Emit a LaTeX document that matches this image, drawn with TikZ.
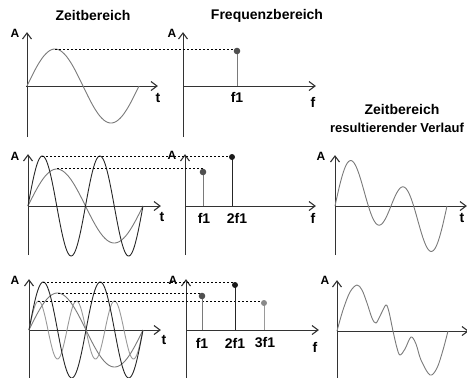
\documentclass[tikz,border=0pt]{standalone}
\usepackage{fontspec}
\setmainfont{Liberation Sans}
\definecolor{axiscol}{HTML}{333333}
\definecolor{wave1}{HTML}{7A7A7A}
\definecolor{wave2}{HTML}{262626}
\definecolor{wave3}{HTML}{9A9A9A}
\definecolor{dot1}{HTML}{505050}
\definecolor{dot2}{HTML}{1A1A1A}
\definecolor{dot3}{HTML}{8A8A8A}
\begin{document}
\begin{tikzpicture}[x=1pt,y=-1pt,
  axis/.style={draw=axiscol, line width=1pt},
  tip/.style={draw=axiscol, line width=1.1pt},
  wavea/.style={draw=wave1, line width=0.9pt},
  waveb/.style={draw=wave2, line width=0.9pt},
  wavec/.style={draw=wave3, line width=0.9pt},
  guide/.style={draw=black, line width=0.8pt, dash pattern=on 2pt off 2pt},
  title/.style={font=\fontsize{14}{16}\selectfont\bfseries, inner sep=0pt},
  subtitle/.style={font=\fontsize{13}{15}\selectfont\bfseries, inner sep=0pt},
  albl/.style={font=\fontsize{12}{14}\selectfont\bfseries, inner sep=0pt},
  lbl/.style={font=\fontsize{14}{16}\selectfont\bfseries, inner sep=0pt}]
\useasboundingbox (0,0) rectangle (467,378);

% titles
\node[title] (tz1) at (93,15) {Zeitbereich};
\node[title] (tf1) at (267,16) {Frequenzbereich};
\node[title] (tz2) at (402,109) {Zeitbereich};
\node[subtitle] (tz3) at (397,128) {resultierender Verlauf};

% ---------------- Row 1 ----------------
\coordinate (r1tb) at (27,137); \coordinate (r1tt) at (27,33);
\coordinate (r1to) at (26,86);  \coordinate (r1te) at (157,86);
\coordinate (r1fb) at (183,137); \coordinate (r1ft) at (183,33);
\coordinate (r1fo) at (183,86);  \coordinate (r1fe) at (315,86);
\draw[axis] (r1tb) -- (r1tt);
\draw[axis] (r1to) -- (r1te);
\draw[axis] (r1fb) -- (r1ft);
\draw[axis] (r1fo) -- (r1fe);
\draw[tip] ([shift={(-4.5,6)}]r1tt) -- (r1tt) -- ([shift={(4.5,6)}]r1tt);
\draw[tip] ([shift={(-6,-4.5)}]r1te) -- (r1te) -- ([shift={(-6,4.5)}]r1te);
\draw[tip] ([shift={(-4.5,6)}]r1ft) -- (r1ft) -- ([shift={(4.5,6)}]r1ft);
\draw[tip] ([shift={(-6,-4.5)}]r1fe) -- (r1fe) -- ([shift={(-6,4.5)}]r1fe);
\draw[wavea] plot[domain=0:360, samples=120] ({27+\x/360*112},{86-37*sin(\x)});
\coordinate (r1p1) at (55,49);
\coordinate (r1d1) at (237,51);
\coordinate (r1s1) at (237,86);
\draw[guide] (r1p1) -- (r1d1 |- r1p1);
\draw[draw=wave1, line width=0.9pt] (r1s1) -- (r1d1);
\fill[dot1] (r1d1) circle (3.3pt);
\node[albl] (r1A1) at (15,33) {A};
\node[albl] (r1A2) at (172,33) {A};
\node[lbl] (r1t) at (158,98) {t};
\node[lbl] (r1f1) at (237,97) {f1};
\node[lbl] (r1f) at (313,102) {f};

% ---------------- Row 2 ----------------
\coordinate (r2tb) at (28,255); \coordinate (r2tt) at (28,155);
\coordinate (r2to) at (28,206); \coordinate (r2te) at (160,206);
\coordinate (r2fb) at (185,255); \coordinate (r2ft) at (185,155);
\coordinate (r2fo) at (185,206); \coordinate (r2fe) at (315,206);
\coordinate (r2rb) at (335,255); \coordinate (r2rt) at (335,156);
\coordinate (r2ro) at (335,206); \coordinate (r2re) at (466,206);
\draw[axis] (r2tb) -- (r2tt);
\draw[axis] (r2to) -- (r2te);
\draw[axis] (r2fb) -- (r2ft);
\draw[axis] (r2fo) -- (r2fe);
\draw[axis] (r2rb) -- (r2rt);
\draw[axis] (r2ro) -- (r2re);
\draw[tip] ([shift={(-4.5,6)}]r2tt) -- (r2tt) -- ([shift={(4.5,6)}]r2tt);
\draw[tip] ([shift={(-6,-4.5)}]r2te) -- (r2te) -- ([shift={(-6,4.5)}]r2te);
\draw[tip] ([shift={(-4.5,6)}]r2ft) -- (r2ft) -- ([shift={(4.5,6)}]r2ft);
\draw[tip] ([shift={(-6,-4.5)}]r2fe) -- (r2fe) -- ([shift={(-6,4.5)}]r2fe);
\draw[tip] ([shift={(-4.5,6)}]r2rt) -- (r2rt) -- ([shift={(4.5,6)}]r2rt);
\draw[tip] ([shift={(-6,-4.5)}]r2re) -- (r2re) -- ([shift={(-6,4.5)}]r2re);
\draw[wavea] plot[domain=0:360, samples=120] ({28+\x/360*115},{206-37*sin(\x)});
\draw[waveb] plot[domain=0:360, samples=160] ({28+\x/360*115},{206-50*sin(2*\x)});
\coordinate (r2p2) at (42,156);
\coordinate (r2p1) at (57,168);
\coordinate (r2d1) at (203,172);
\coordinate (r2d2) at (232,157);
\coordinate (r2s1) at (203,206);
\coordinate (r2s2) at (232,206);
\draw[guide] (r2p2) -- (r2d2 |- r2p2);
\draw[guide] (r2p1) -- (r2d1 |- r2p1);
\draw[draw=wave1, line width=0.9pt] (r2s1) -- (r2d1);
\draw[draw=wave2, line width=0.9pt] (r2s2) -- (r2d2);
\fill[dot1] (r2d1) circle (3.3pt);
\fill[dot2] (r2d2) circle (3pt);
\draw[wavea] plot[domain=0:360, samples=160] ({335+\x/360*112},{206-18.7*sin(\x)-31.6*sin(2*\x)});
\node[albl] (r2A1) at (15,156) {A};
\node[albl] (r2A2) at (172,155) {A};
\node[albl] (r2A3) at (321,156) {A};
\node[lbl] (r2t) at (162,217) {t};
\node[lbl] (r2f1) at (204,218) {f1};
\node[lbl] (r2f2) at (237,218) {2f1};
\node[lbl] (r2f) at (313,218) {f};
\node[lbl] (r2t2) at (462,218) {t};

% ---------------- Row 3 ----------------
\coordinate (r3tb) at (29,380); \coordinate (r3tt) at (29,280);
\coordinate (r3to) at (29,330); \coordinate (r3te) at (160,330);
\coordinate (r3fb) at (186,380); \coordinate (r3ft) at (186,280);
\coordinate (r3fo) at (186,330); \coordinate (r3fe) at (318,330);
\coordinate (r3rb) at (337,380); \coordinate (r3rt) at (337,281);
\coordinate (r3ro) at (337,331); \coordinate (r3re) at (468,331);
\draw[axis] (r3tb) -- (r3tt);
\draw[axis] (r3to) -- (r3te);
\draw[axis] (r3fb) -- (r3ft);
\draw[axis] (r3fo) -- (r3fe);
\draw[axis] (r3rb) -- (r3rt);
\draw[axis] (r3ro) -- (r3re);
\draw[tip] ([shift={(-4.5,6)}]r3tt) -- (r3tt) -- ([shift={(4.5,6)}]r3tt);
\draw[tip] ([shift={(-6,-4.5)}]r3te) -- (r3te) -- ([shift={(-6,4.5)}]r3te);
\draw[tip] ([shift={(-4.5,6)}]r3ft) -- (r3ft) -- ([shift={(4.5,6)}]r3ft);
\draw[tip] ([shift={(-6,-4.5)}]r3fe) -- (r3fe) -- ([shift={(-6,4.5)}]r3fe);
\draw[tip] ([shift={(-4.5,6)}]r3rt) -- (r3rt) -- ([shift={(4.5,6)}]r3rt);
\draw[tip] ([shift={(-6,-4.5)}]r3re) -- (r3re) -- ([shift={(-6,4.5)}]r3re);
\draw[wavea] plot[domain=0:360, samples=120] ({29+\x/360*114},{330-37*sin(\x)});
\draw[wavec] plot[domain=0:360, samples=200] ({29+\x/360*114},{330-29*sin(3*\x)});
\draw[waveb] plot[domain=0:360, samples=160] ({29+\x/360*114},{330-48*sin(2*\x)});
\coordinate (r3p2) at (43,282);
\coordinate (r3p1) at (58,293);
\coordinate (r3p3) at (38,301);
\coordinate (r3d1) at (202,296);
\coordinate (r3d2) at (235,285);
\coordinate (r3d3) at (264,303);
\coordinate (r3s1) at (202,330);
\coordinate (r3s2) at (235,330);
\coordinate (r3s3) at (264,330);
\draw[guide] (r3p2) -- (r3d2 |- r3p2);
\draw[guide] (r3p1) -- (r3d1 |- r3p1);
\draw[guide] (r3p3) -- (r3d3 |- r3p3);
\draw[draw=wave1, line width=0.9pt] (r3s1) -- (r3d1);
\draw[draw=wave2, line width=0.9pt] (r3s2) -- (r3d2);
\draw[draw=wave3, line width=0.9pt] (r3s3) -- (r3d3);
\fill[dot1] (r3d1) circle (3.3pt);
\fill[dot2] (r3d2) circle (3pt);
\fill[dot3] (r3d3) circle (3pt);
\draw[wavea] plot[smooth, tension=0.55] coordinates {
  (337,331) (343,310) (350,292) (357,285) (362,290) (367,303) (372,318)
  (376,323) (381,314) (386,305) (389,312) (393,331) (397,348) (400,355)
  (405,349) (411,337) (416,344) (421,360) (430,375) (437,368) (443,350) (448,331)};
\node[albl] (r3A1) at (15,280) {A};
\node[albl] (r3A2) at (173,280) {A};
\node[albl] (r3A3) at (325,280) {A};
\node[lbl] (r3t) at (164,340) {t};
\node[lbl] (r3f1) at (202,343) {f1};
\node[lbl] (r3f2) at (235,343) {2f1};
\node[lbl] (r3f3) at (265,343) {3f1};
\node[lbl] (r3f) at (315,347) {f};
\end{tikzpicture}
\end{document}
